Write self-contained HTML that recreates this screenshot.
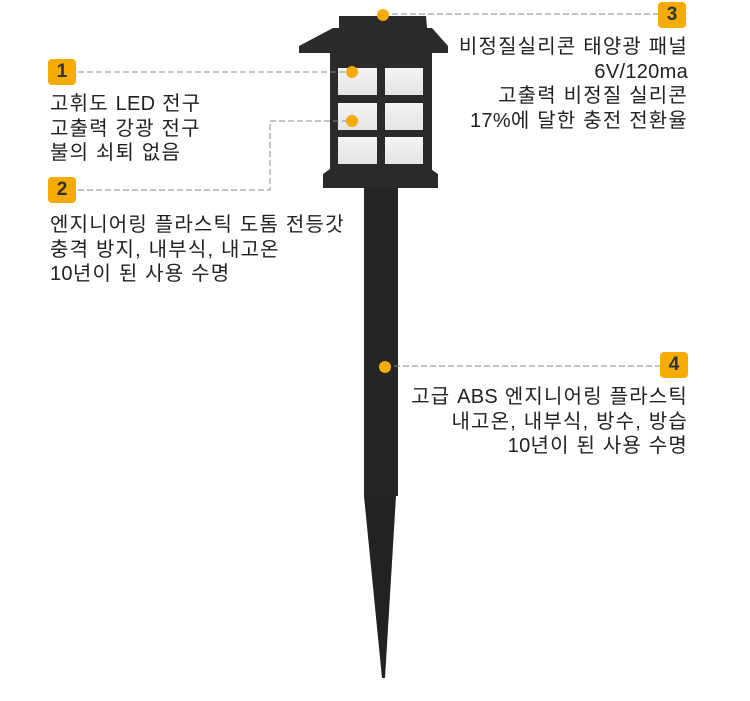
<!DOCTYPE html>
<html><head><meta charset="utf-8"><style>
body{margin:0;width:750px;height:701px;background:#fff;position:relative;overflow:hidden;font-family:"Liberation Sans","Noto Sans CJK KR",sans-serif;}
.t{position:absolute;font-size:20px;line-height:24.5px;color:#222;white-space:nowrap;letter-spacing:1.2px;}
.t span{letter-spacing:0.3px;}
.b{position:absolute;width:28px;height:26px;background:#f6ab00;border-radius:4px;color:#333;font-weight:bold;font-size:19px;text-align:center;line-height:26px;}
</style></head><body>
<svg width="750" height="701" style="position:absolute;left:0;top:0">
<defs><linearGradient id="w" x1="0" y1="0" x2="0" y2="1"><stop offset="0" stop-color="#f4f4f4"/><stop offset="1" stop-color="#e4e4e4"/></linearGradient></defs>
<polygon points="339,16 426,16 427,28 339,28" fill="#2a2a2a"/>
<polygon points="333,28 432,28 448,46 448,53 299,53 299,46" fill="#2b2b2b"/>
<rect x="330" y="53" width="102" height="120" fill="#2a2a2a"/>
<rect x="338" y="68" width="39" height="27" fill="url(#w)"/>
<rect x="385" y="68" width="38" height="27" fill="url(#w)"/>
<rect x="338" y="103" width="39" height="27" fill="url(#w)"/>
<rect x="385" y="103" width="38" height="27" fill="url(#w)"/>
<rect x="338" y="137" width="39" height="27" fill="url(#w)"/>
<rect x="385" y="137" width="38" height="27" fill="url(#w)"/>
<polygon points="333,167 428,167 438,174 438,188 323,188 323,174" fill="#2a2a2a"/>
<rect x="364" y="188" width="34" height="308" fill="#252525"/>
<polygon points="364,496 396,496 385,678 382,678" fill="#222"/>
<g stroke="#888" stroke-width="1" stroke-dasharray="6,3" fill="none">
<path d="M78 72 H350"/>
<path d="M78 190 H270 V121 H352"/>
<path d="M383 14 H658"/>
<path d="M385 366 H660"/>
</g>
<g fill="#f6ab00">
<circle cx="383" cy="15" r="6"/>
<circle cx="352" cy="72" r="6"/>
<circle cx="352" cy="121" r="6"/>
<circle cx="385" cy="367" r="6"/>
</g>
</svg>
<div class="b" style="left:48px;top:59px">1</div>
<div class="b" style="left:48px;top:177px">2</div>
<div class="b" style="left:658px;top:2px">3</div>
<div class="b" style="left:660px;top:352px">4</div>
<div class="t" style="left:50px;top:92px">고휘도 <span>LED</span> 전구<br>고출력 강광 전구<br>불의 쇠퇴 없음</div>
<div class="t" style="left:50px;top:213px">엔지니어링 플라스틱 도톰 전등갓<br>충격 방지, 내부식, 내고온<br><span>10</span>년이 된 사용 수명</div>
<div class="t" style="right:62px;top:35px;text-align:right">비정질실리콘 태양광 패널<br><span>6V/120ma</span><br>고출력 비정질 실리콘<br><span>17%</span>에 달한 충전 전환율</div>
<div class="t" style="right:62px;top:385px;text-align:right">고급 <span>ABS</span> 엔지니어링 플라스틱<br>내고온, 내부식, 방수, 방습<br><span>10</span>년이 된 사용 수명</div>
</body></html>
